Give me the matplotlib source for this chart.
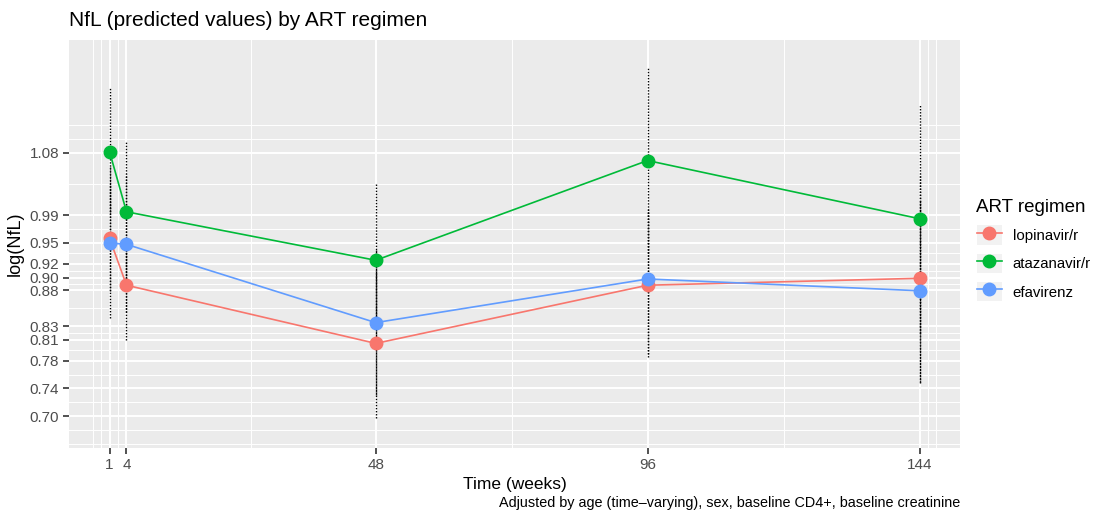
import matplotlib
matplotlib.use("Agg")
import matplotlib.pyplot as plt
from matplotlib.lines import Line2D
from matplotlib.patches import Rectangle
from matplotlib.legend_handler import HandlerTuple
import numpy as np

plt.rcParams['font.family'] = ['Liberation Sans', 'DejaVu Sans']

# ---- data ----
weeks = [1, 4, 48, 96, 144]
regimens = ["lopinavir/r", "atazanavir/r", "efavirenz"]
colors = ["#F8766D", "#00BA38", "#619CFF"]

lopinavir = [0.957, 0.889, 0.805, 0.889, 0.899]
atazanavir = [1.082, 0.995, 0.925, 1.069, 0.985]
efavirenz = [0.950, 0.948, 0.835, 0.898, 0.881]

lopinavir_lo = [0.880, 0.810, 0.697, 0.785, 0.750]
lopinavir_hi = [1.034, 0.960, 0.910, 0.995, 1.050]
atazanavir_lo = [0.994, 0.900, 0.830, 0.935, 0.820]
atazanavir_hi = [1.175, 1.096, 1.037, 1.203, 1.149]
efavirenz_lo = [0.842, 0.850, 0.730, 0.790, 0.748]
efavirenz_hi = [1.060, 1.050, 0.940, 1.000, 1.010]

y_ticks = [0.70, 0.74, 0.78, 0.81, 0.83, 0.882, 0.90, 0.92, 0.95, 0.99, 1.08]
y_labels = ["0.70", "0.74", "0.78", "0.81", "0.83", "0.88", "0.90", "0.92", "0.95", "0.99", "1.08"]
x_ticks = [1, 4, 48, 96, 144]
x_labels = ["1", "4", "48", "96", "144"]

series = [lopinavir, atazanavir, efavirenz]
lows = [lopinavir_lo, atazanavir_lo, efavirenz_lo]
highs = [lopinavir_hi, atazanavir_hi, efavirenz_hi]

# ---- figure ----
fig = plt.figure(figsize=(11, 5.15), dpi=100)
L, R, T, B = 69 / 1100, 960 / 1100, 1 - 40 / 515, 1 - 448 / 515
ax = fig.add_axes([L, B, R - L, T - B])
ax.set_facecolor("#EBEBEB")
for s in ax.spines.values():
    s.set_visible(False)

xmin, xmax = 1 - 0.05 * 143, 144 + 0.05 * 143
ax.set_xlim(xmin, xmax)
ax.set_ylim(0.654, 1.243)


def minor_breaks(b, lims):
    b = sorted(b)
    bd = b[1] - b[0]
    if lims[0] < b[0]:
        b = [b[0] - bd] + b
    if lims[1] > b[-1]:
        b = b + [b[-1] + bd]
    out = []
    for a, c in zip(b[:-1], b[1:]):
        out += [a, (a + c) / 2]
    out.append(b[-1])
    return out


for v in minor_breaks(y_ticks, ax.get_ylim()):
    ax.axhline(v, color="white", lw=0.7, zorder=0.5)
for v in minor_breaks(x_ticks, ax.get_xlim()):
    ax.axvline(v, color="white", lw=0.7, zorder=0.5)
for v in y_ticks:
    ax.axhline(v, color="white", lw=1.4, zorder=0.6)
for v in x_ticks:
    ax.axvline(v, color="white", lw=1.4, zorder=0.6)

# error bars (dotted)
for lo, hi in zip(lows, highs):
    for x, l, h in zip(weeks, lo, hi):
        ax.plot([x, x], [l, h], color="black", lw=1.0, linestyle=(0, (1, 1.2)), zorder=2)

# lines and points
handles = []
for vals, col, name in zip(series, colors, regimens):
    ax.plot(weeks, vals, color=col, lw=1.2, zorder=3)
    ax.plot(weeks, vals, 'o', color=col, ms=9, zorder=4)
    bg = Rectangle((0, 0), 1, 1, facecolor="#F2F2F2", edgecolor="none")
    ln = Line2D([], [], color=col, lw=1.2, marker='o', ms=9)
    handles.append((bg, ln))

ax.set_xticks(x_ticks)
ax.set_xticklabels(x_labels)
ax.set_yticks(y_ticks)
ax.set_yticklabels(y_labels)
ax.tick_params(axis='both', length=4, width=1.2, color="#333333",
               labelcolor="#4D4D4D", labelsize=11, pad=3)

ax.set_xlabel("Time (weeks)", fontsize=12.5, color="black", labelpad=4)
ax.set_ylabel("log(NfL)", fontsize=13, color="black", labelpad=4)

fig.text(69 / 1100, 1 - 20 / 515, "NfL (predicted values) by ART regimen",
         fontsize=15, va="center", ha="left", color="black")
fig.text(960 / 1100, 1 - 503 / 515,
         "Adjusted by age (time\u2013varying), sex, baseline CD4+, baseline creatinine",
         fontsize=10.4, ha="right", va="center", color="black")

leg = fig.legend(handles, regimens, loc="upper left",
                 bbox_to_anchor=(963 / 1100, 1 - 186 / 515),
                 title="ART regimen", frameon=False, fontsize=10.8,
                 title_fontsize=13.5, handlelength=1.7, handleheight=1.6,
                 handletextpad=0.7, labelspacing=0.6,
                 handler_map={tuple: HandlerTuple(ndivide=1, pad=0)})
leg._legend_box.align = "left"

fig.savefig("out.png", dpi=100)
